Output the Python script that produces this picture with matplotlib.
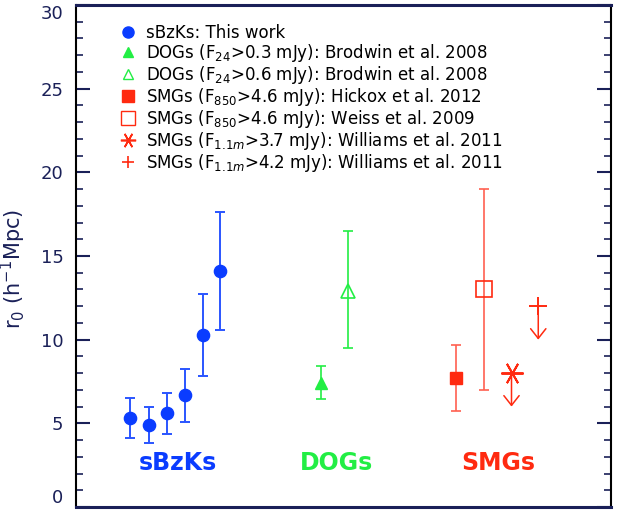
import matplotlib
matplotlib.use("Agg")
import numpy as np
from matplotlib import pyplot as plt
from matplotlib.lines import Line2D

# sBzKs: this work
sbzk_x = [1.01, 1.36, 1.70, 2.03, 2.37, 2.70]
sbzk_r0 = [5.3, 4.9, 5.6, 6.7, 10.3, 14.1]
sbzk_hi = [6.5, 6.0, 6.8, 8.25, 12.7, 17.6]
sbzk_lo = [4.1, 3.8, 4.35, 5.1, 7.8, 10.6]

# DOGs: Brodwin et al. 2008
dog_x = [4.57, 5.08]
dog_r0 = [7.4, 12.9]
dog_hi = [8.4, 16.5]
dog_lo = [6.45, 9.5]

# SMGs with error bars: Hickox 2012, Weiss 2009
smg_x = [7.11, 7.63]
smg_r0 = [7.7, 13.0]
smg_hi = [9.7, 19.0]
smg_lo = [5.75, 7.0]

# SMGs upper limits: Williams et al. 2011
lim_x = [8.14, 8.64]
lim_r0 = [8.0, 12.0]
lim_arrow = [2.0, 2.0]

legend_labels = [
    "sBzKs: This work",
    r"DOGs (F$_{24}$>0.3 mJy): Brodwin et al. 2008",
    r"DOGs (F$_{24}$>0.6 mJy): Brodwin et al. 2008",
    r"SMGs (F$_{850}$>4.6 mJy): Hickox et al. 2012",
    r"SMGs (F$_{850}$>4.6 mJy): Weiss et al. 2009",
    r"SMGs (F$_{1.1m}$>3.7 mJy): Williams et al. 2011",
    r"SMGs (F$_{1.1m}$>4.2 mJy): Williams et al. 2011",
]
group_names = ["sBzKs", "DOGs", "SMGs"]
group_x = [1.91, 4.86, 7.89]
group_y = 2.6

blue = "#0a3cff"
blue_err = "#2a55ff"
green = "#22ee44"
red = "#ff2a10"
red_err = "#ff6050"
navy = "#1a2058"

fig = plt.figure(figsize=(6.17, 5.13), dpi=100)
ax = fig.add_axes([0.1232, 0.0117, 0.8671, 0.9786])

def errs(v, lo, hi):
    v = np.array(v); return [v - np.array(lo), np.array(hi) - v]

ax.errorbar(sbzk_x, sbzk_r0, yerr=errs(sbzk_r0, sbzk_lo, sbzk_hi), fmt="o",
            color=blue, ecolor=blue_err, ms=8.8, capsize=3.4, elinewidth=1.4, capthick=1.4)
ax.errorbar(dog_x[0], dog_r0[0], yerr=[[dog_r0[0] - dog_lo[0]], [dog_hi[0] - dog_r0[0]]],
            fmt="^", color=green, ms=8, capsize=3.4, elinewidth=1.2, capthick=1.2)
ax.errorbar(dog_x[1], dog_r0[1], yerr=[[dog_r0[1] - dog_lo[1]], [dog_hi[1] - dog_r0[1]]],
            fmt="^", color=green, mfc="none", ms=10, mew=1.2, capsize=3.4, elinewidth=1.2, capthick=1.2)
ax.errorbar(smg_x[0], smg_r0[0], yerr=[[smg_r0[0] - smg_lo[0]], [smg_hi[0] - smg_r0[0]]],
            fmt="s", color=red, ecolor=red_err, ms=9, capsize=3.4, elinewidth=1.2, capthick=1.2)
ax.errorbar(smg_x[1], smg_r0[1], yerr=[[smg_r0[1] - smg_lo[1]], [smg_hi[1] - smg_r0[1]]],
            fmt="s", color=red, ecolor=red_err, mfc="none", ms=12, mew=1.2, capsize=3.4,
            elinewidth=1.2, capthick=1.2)

lim_markers = [(6, 2, 90), "+"]
lim_ms = [16, 13]
for x, y, d, m, s in zip(lim_x, lim_r0, lim_arrow, lim_markers, lim_ms):
    ax.plot(x, y, marker=m, color=red, ms=s, mew=1.4, ls="none")
    ax.annotate("", xy=(x, y - d), xytext=(x, y),
                arrowprops=dict(arrowstyle="->,head_length=0.7,head_width=0.55",
                                color=red, lw=1.1, shrinkA=0, shrinkB=0))

for name, x, c in zip(group_names, group_x, [blue, green, red]):
    ax.text(x, group_y, name, color=c, fontsize=17, fontweight="bold", ha="center", va="center")

handles = [
    Line2D([], [], marker="o", color=blue, ls="none", ms=8),
    Line2D([], [], marker="^", color=green, ls="none", ms=7),
    Line2D([], [], marker="^", color=green, mfc="none", ls="none", ms=7),
    Line2D([], [], marker="s", color=red, ls="none", ms=8),
    Line2D([], [], marker="s", color=red, mfc="none", ls="none", ms=10),
    Line2D([], [], marker=(6, 2, 90), color=red, ls="none", ms=11, mew=1.2),
    Line2D([], [], marker="+", color=red, ls="none", ms=9, mew=1.2),
]
leg = ax.legend(handles, legend_labels, loc="upper left", bbox_to_anchor=(0.07, 0.975),
                frameon=False, fontsize=12.0, handlelength=1.0, handletextpad=0.55,
                labelspacing=0.0, borderaxespad=0)

ax.set_xlim(0, 10)
ax.set_ylim(0, 30)
ax.set_xticks([])
ax.set_yticks(np.arange(0, 31, 5))
ax.set_yticks(np.arange(0, 31, 1), minor=True)
ax.tick_params(axis="y", which="both", direction="in", left=True, right=True,
               labelsize=13, labelcolor=navy, color=navy, pad=9)
ax.tick_params(axis="y", which="major", length=10, width=1.5)
ax.tick_params(axis="y", which="minor", length=5, width=1.2)
ticks = ax.yaxis.get_major_ticks()
ticks[0].label1.set_va("bottom")
ticks[-1].label1.set_va("top")
for s in ["left", "right"]:
    ax.spines[s].set_linewidth(1.5)
    ax.spines[s].set_color("black")
for s in ["top", "bottom"]:
    ax.spines[s].set_linewidth(2.2)
    ax.spines[s].set_color(navy)
ax.set_ylabel(r"r$_0$ (h$^{-1}$Mpc)", fontsize=15, color=navy)
ax.yaxis.set_label_coords(-0.09, 0.475)

fig.savefig("out.png", dpi=100)
